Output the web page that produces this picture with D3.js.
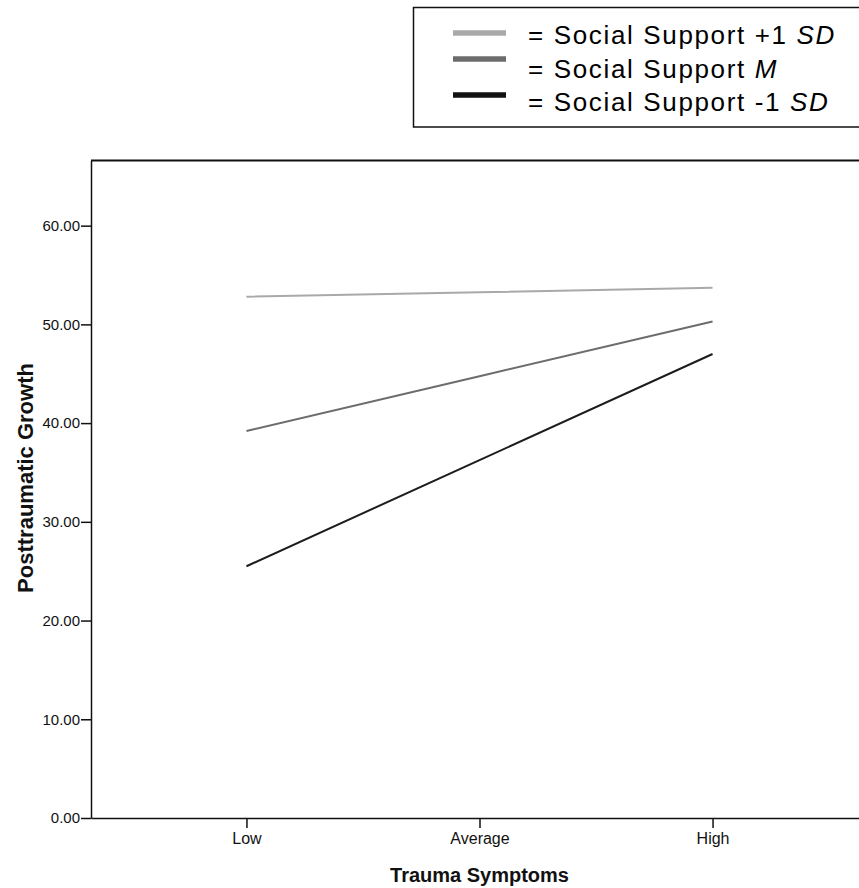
<!DOCTYPE html>
<html>
<head>
<meta charset="utf-8">
<script src="https://cdn.jsdelivr.net/npm/d3@7"></script>
<style>
  html, body { margin: 0; padding: 0; background: #fff; }
  svg { display: block; }
</style>
</head>
<body>
<svg id="chart" width="859" height="888"></svg>
<script>
// ---- data ----
const categories = ["Low", "Average", "High"];
const seriesNames = ["Social Support +1 SD", "Social Support M", "Social Support -1 SD"];
const seriesPlus1SD = [52.8, 53.25, 53.7];
const seriesMean = [39.2, 44.75, 50.3];
const seriesMinus1SD = [25.5, 36.25, 47.0];
const yTicks = [0, 10, 20, 30, 40, 50, 60];
const yMax = 66.6;

(function () {
const svg = d3.select("#chart");
const font = "'Liberation Sans', Arial, sans-serif";

const pLeft = 91, pRight = 868, pTop = 160.5, pBottom = 818;

const x = d3.scalePoint().domain(categories).range([pLeft, pRight]).padding(0.667);
const y = d3.scaleLinear().domain([0, yMax]).range([pBottom, pTop]);

// frame top line
svg.append("line")
  .attr("x1", pLeft).attr("x2", 859).attr("y1", pTop).attr("y2", pTop)
  .attr("stroke", "#111").attr("stroke-width", 2);

// y axis
const yAxis = svg.append("g")
  .attr("transform", `translate(${pLeft},0)`)
  .call(d3.axisLeft(y).tickValues(yTicks).tickFormat(d3.format(".2f")).tickSize(10).tickSizeOuter(0));
yAxis.select(".domain").attr("stroke", "#111").attr("stroke-width", 1.5);
yAxis.selectAll(".tick line").attr("stroke", "#111").attr("stroke-width", 1.5);
yAxis.selectAll(".tick text").attr("font-family", font).attr("font-size", 15).attr("fill", "#111").attr("x", -11);

// x axis
const xAxis = svg.append("g")
  .attr("transform", `translate(0,${pBottom})`)
  .call(d3.axisBottom(x).tickSize(10).tickSizeOuter(0));
xAxis.select(".domain").attr("stroke", "#111").attr("stroke-width", 1.5);
xAxis.selectAll(".tick line").attr("stroke", "#111").attr("stroke-width", 1.5);
xAxis.selectAll(".tick text").attr("font-family", font).attr("font-size", 16).attr("fill", "#111").attr("y", 15);

// axis titles
svg.append("text")
  .attr("x", x("Average")).attr("y", 882)
  .attr("text-anchor", "middle")
  .attr("font-family", font).attr("font-weight", "bold").attr("font-size", 20)
  .attr("fill", "#111")
  .text("Trauma Symptoms");

svg.append("text")
  .attr("transform", `translate(33,478) rotate(-90)`)
  .attr("text-anchor", "middle")
  .attr("font-family", font).attr("font-weight", "bold").attr("font-size", 22)
  .attr("fill", "#111")
  .text("Posttraumatic Growth");

// lines
const series = [
  { name: seriesNames[0], values: seriesPlus1SD, color: "#a9a9a9" },
  { name: seriesNames[1], values: seriesMean, color: "#6c6c6c" },
  { name: seriesNames[2], values: seriesMinus1SD, color: "#1c1c1c" }
];
const line = d3.line().x((d, i) => x(categories[i])).y(d => y(d));
svg.selectAll("path.series")
  .data(series)
  .join("path")
  .attr("class", "series")
  .attr("d", d => line(d.values))
  .attr("fill", "none")
  .attr("stroke", d => d.color)
  .attr("stroke-width", 2);

// legend
svg.append("rect")
  .attr("x", 413.5).attr("y", 7.5).attr("width", 460).attr("height", 119.5)
  .attr("fill", "#fff").attr("stroke", "#111").attr("stroke-width", 1.5);

const legendRows = [
  { color: "#a9a9a9", lineY: 33, textY: 44, pre: "= Social Support +1 ", it: "SD" },
  { color: "#6c6c6c", lineY: 59, textY: 78, pre: "= Social Support ", it: "M" },
  { color: "#111111", lineY: 95, textY: 111, pre: "= Social Support -1 ", it: "SD" }
];
const lg = svg.append("g");
legendRows.forEach(r => {
  lg.append("line")
    .attr("x1", 453).attr("x2", 506).attr("y1", r.lineY).attr("y2", r.lineY)
    .attr("stroke", r.color).attr("stroke-width", 5.5);
  const t = lg.append("text")
    .attr("x", 528).attr("y", r.textY)
    .attr("font-family", font).attr("font-size", 26).attr("letter-spacing", 1.65)
    .attr("fill", "#000");
  t.append("tspan").text(r.pre);
  t.append("tspan").attr("font-style", "italic").text(r.it);
});
})();
</script>
</body>
</html>
